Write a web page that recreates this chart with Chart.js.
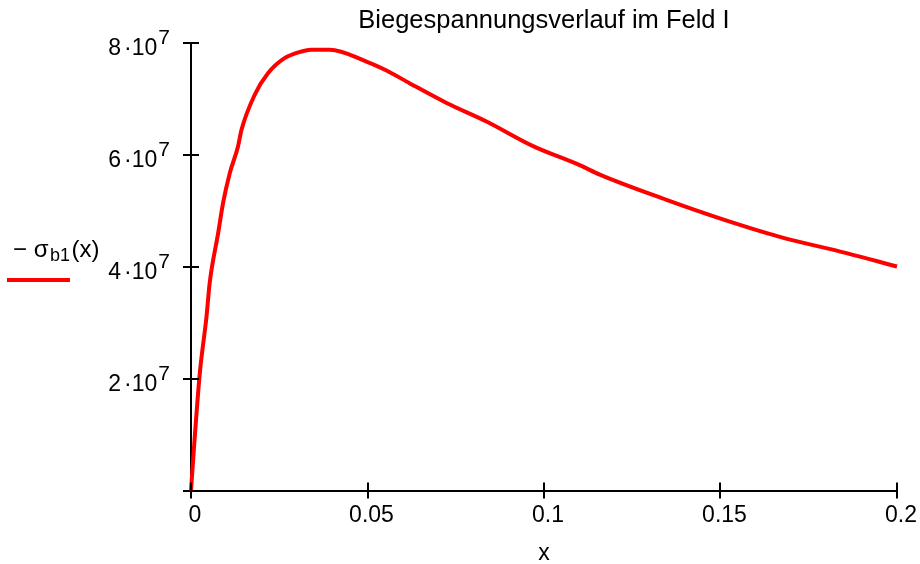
<!DOCTYPE html>
<html>
<head>
<meta charset="utf-8">
<script src="https://cdn.jsdelivr.net/npm/chart.js@4"></script>
<style>
html, body { margin: 0; padding: 0; background: #fff; }
#wrap { width: 920px; height: 564px; }
</style>
</head>
<body>
<div id="wrap"><canvas id="sigma"></canvas></div>
<script>
// x in m, sigma in N/m^2
const xValues = [0, 0.001, 0.0025, 0.0044, 0.0053, 0.0077, 0.0091, 0.011, 0.0133, 0.0143, 0.018, 0.0218, 0.0265, 0.0313, 0.034,
    0.0393, 0.0497, 0.0554, 0.062, 0.0724, 0.0837, 0.0969, 0.1101, 0.1158, 0.1347, 0.1498, 0.1668, 0.1857, 0.2];
const sigmaValues = [0, 0.9e7, 2.1e7, 3.11e7, 3.71e7, 4.6e7, 5.14e7, 5.67e7, 6.14e7, 6.44e7, 7.06e7, 7.45e7, 7.72e7, 7.84e7, 7.87e7,
    7.87e7, 7.66e7, 7.5e7, 7.27e7, 6.92e7, 6.59e7, 6.15e7, 5.81e7, 5.64e7, 5.19e7, 4.86e7, 4.53e7, 4.24e7, 4.0e7];

const xTickLabels = ['0', '0.05', '0.1', '0.15', '0.2'];
const yTickMantissas = ['', '2', '4', '6', '8'];
const yTickExponent = '7';
const chartTitle = 'Biegespannungsverlauf im Feld I';
const xAxisTitle = 'x';
const seriesName = ['\u2212 \u03c3', 'b1', '(x)'];

const fontFamily = '"Liberation Sans", Arial, sans-serif';
const lineColor = '#ff0000';

const points = xValues.map((x, i) => ({ x: x, y: sigmaValues[i] }));

// Mathcad style: ticks cross the axis, y labels as a.10^n, legend at the left
const mathcadBits = {
    id: 'mathcadBits',
    afterDraw(chart) {
        const ctx = chart.ctx;
        const xs = chart.scales.x;
        const ys = chart.scales.y;
        const area = chart.chartArea;

        ctx.save();
        ctx.strokeStyle = '#000';
        ctx.lineWidth = 2;
        xs.ticks.forEach(t => {
            const px = Math.round(xs.getPixelForValue(t.value));
            ctx.beginPath();
            ctx.moveTo(px, area.bottom);
            ctx.lineTo(px, area.bottom - 8);
            ctx.stroke();
        });
        ys.ticks.forEach(t => {
            const py = Math.round(ys.getPixelForValue(t.value));
            ctx.beginPath();
            ctx.moveTo(area.left, py);
            ctx.lineTo(area.left + 8, py);
            ctx.stroke();
        });

        ctx.fillStyle = '#000';
        ctx.textBaseline = 'alphabetic';
        ctx.textAlign = 'right';
        ys.ticks.forEach((t, i) => {
            const m = yTickMantissas[i];
            if (!m) return;
            const py = ys.getPixelForValue(t.value);
            let right = area.left - 21;
            ctx.font = `21px ${fontFamily}`;
            ctx.fillText(yTickExponent, right, py + 1);
            right -= ctx.measureText(yTickExponent).width + 1;
            ctx.font = `23px ${fontFamily}`;
            ctx.fillText('10', right, py + 12);
            right -= ctx.measureText('10').width;
            ctx.fillText('\u00b7', right, py + 12);
            right -= ctx.measureText('\u00b7').width + 3;
            ctx.fillText(m, right, py + 12);
        });

        // legend
        ctx.textAlign = 'left';
        let lx = 13;
        ctx.font = `24px ${fontFamily}`;
        ctx.fillText(seriesName[0], lx, 257);
        lx += ctx.measureText(seriesName[0]).width + 1.5;
        ctx.font = `18px ${fontFamily}`;
        ctx.fillText(seriesName[1], lx, 261);
        lx += ctx.measureText(seriesName[1]).width + 1.5;
        ctx.font = `24px ${fontFamily}`;
        ctx.fillText(seriesName[2], lx, 257);

        ctx.strokeStyle = chart.data.datasets[0].borderColor;
        ctx.lineWidth = 4;
        ctx.beginPath();
        ctx.moveTo(7, 280);
        ctx.lineTo(70, 280);
        ctx.stroke();
        ctx.restore();
    }
};

new Chart(document.getElementById('sigma'), {
    type: 'line',
    data: {
        datasets: [{
            label: seriesName.join(''),
            data: points,
            borderColor: lineColor,
            borderWidth: 4,
            pointRadius: 0,
            cubicInterpolationMode: 'monotone',
            fill: false,
            clip: 6
        }]
    },
    options: {
        responsive: true,
        maintainAspectRatio: false,
        animation: false,
        layout: { padding: { top: 0, right: 23, bottom: 0, left: 0 } },
        plugins: {
            legend: { display: false },
            tooltip: { enabled: false },
            title: {
                display: true,
                text: chartTitle,
                fullSize: false,
                color: '#000',
                font: { family: fontFamily, size: 25.5, weight: 'normal' },
                padding: { top: 5.7, bottom: 6.2 }
            }
        },
        scales: {
            x: {
                type: 'linear',
                min: 0,
                max: 0.2,
                afterFit: s => { s.height = 73.4; },
                ticks: {
                    stepSize: 0.05,
                    color: '#000',
                    padding: 3,
                    labelOffset: 4,
                    maxRotation: 0,
                    font: { family: fontFamily, size: 23 },
                    callback: (v, i) => xTickLabels[i]
                },
                grid: { drawOnChartArea: false, color: '#000', lineWidth: 2, tickLength: 8 },
                border: { display: true, color: '#000', width: 2 },
                title: {
                    display: true,
                    text: xAxisTitle,
                    color: '#000',
                    font: { family: fontFamily, size: 23 },
                    padding: { top: 0, bottom: -3 }
                }
            },
            y: {
                min: 0,
                max: 8e7,
                afterFit: s => { s.width = 191; },
                ticks: { stepSize: 2e7, display: false },
                grid: { drawOnChartArea: false, color: '#000', lineWidth: 2, tickLength: 8 },
                border: { display: true, color: '#000', width: 2 }
            }
        }
    },
    plugins: [mathcadBits]
});
</script>
</body>
</html>
